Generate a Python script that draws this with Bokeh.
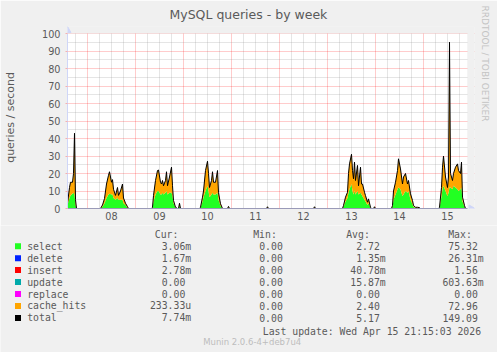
import math
from bokeh.plotting import figure
from bokeh.layouts import column
from bokeh.models import Range1d, FixedTicker, Title
from bokeh.core.properties import value
from bokeh.embed import file_html
from bokeh.resources import INLINE

# ---------------- data (hours relative to Wed Apr 8 00:00) ----------------
hours = [-10, -9, -8.5, -7.5, -7, -6.5, -6, -5.5,
         6, 6.5, 7.5, 8.5, 9.5, 10.5, 11, 12, 12.5, 13, 14, 15, 15.5, 16.5, 17.5, 18, 19, 20, 20.5,
         32, 32.5, 33, 34, 35, 35.5, 36.5, 37, 37.5, 38, 39, 39.5, 40, 41, 42, 42.5, 43, 44, 45, 45.5, 46, 46.5,
         56, 56.5, 57.5, 58, 59, 60, 60.5, 61, 62, 62.5, 63, 64, 65, 65.5, 66.5, 67.5, 70, 70.5, 71,
         89.5, 90, 90.5, 113, 113.5, 114,
         127.5, 128, 129, 130, 130.5, 131, 132, 132.5, 133, 133.5, 134, 135, 135.5, 136.5, 137, 137.5, 138.5, 139,
         140, 140.5, 141.5, 142, 143, 143.5, 144,
         152, 152.5, 153, 154, 155, 155.5, 156.5, 157.5, 158, 159, 160, 160.5, 161.5, 162.5, 163, 164, 165, 166, 166.5,
         175.5, 176, 177, 177.5, 178, 179, 180, 180.5, 181, 181.5, 182.5, 183, 184, 185, 185.5, 186.5, 187, 187.5,
         188.5, 189]
total = [3, 12, 15, 15, 20, 43, 5, 0,
         0, 0, 2, 5.7, 14, 19, 21, 15, 16.5, 11, 7.5, 12, 7.5, 10, 14, 6, 3, 1, 0,
         0, 0.7, 7.4, 16, 21.7, 22, 15, 14, 16, 13, 16, 21, 13, 18, 23.6, 13, 4.6, 0.7, 0, 0, 3, 0,
         0, 0.7, 6.5, 10, 21.7, 27, 20, 12, 16, 21, 15, 15, 21.7, 9, 2.7, 0, 0, 1.2, 0,
         0, 1, 0, 0, 1, 0,
         0, 1.7, 6.5, 9.3, 20, 25.5, 31, 21.7, 17, 26.5, 16, 24.6, 13, 23.6, 14, 14, 9.3, 7.4,
         3.6, 5.5, 0.7, 0, 0, 1, 0,
         0, 1.7, 10, 15, 21.7, 28.4, 22.6, 14, 18, 20, 14, 16, 8.4, 4.6, 1.7, 0.7, 0.7, 0.5, 0,
         0, 0.7, 12, 23.6, 30, 18, 12, 18, 95, 20, 16, 20, 23.6, 25.5, 21.7, 20, 26.5, 6.5,
         1.7, 0]
select = [2, 6, 7.5, 8.5, 9, 8, 2, 0,
          0, 0, 1, 3, 6, 8, 8.5, 8, 8, 6, 5, 6, 5, 5, 5, 3, 2, 0.5, 0,
          0, 0.4, 4, 8, 10, 10, 8, 8, 9, 8, 9, 10, 8, 9, 9, 7, 3, 0.4, 0, 0, 1.5, 0,
          0, 0.4, 4, 6.5, 10, 13, 10, 6.5, 8, 9, 8, 8, 9, 5, 1.5, 0, 0, 0.6, 0,
          0, 0.5, 0, 0, 0.5, 0,
          0, 1, 4, 6, 9, 11, 14, 10, 8, 10, 8, 10, 8, 9, 8, 7, 5, 4,
          2, 3, 0.4, 0, 0, 0.5, 0,
          0, 1, 5, 8, 11, 12, 11, 7, 8, 10, 9, 10, 5, 2.5, 1, 0.4, 0.3, 0.2, 0,
          0, 0.5, 7, 11, 13, 10, 7, 9, 12, 12, 11, 13, 12, 11, 10, 11, 12, 4,
          1, 0]

day_labels = ["08", "09", "10", "11", "12", "13", "14", "15"]
y_ticks = [0, 10, 20, 30, 40, 50, 60, 70, 80, 90, 100]

leg_names = ["select", "delete", "insert", "update", "replace", "cache_hits", "total"]
leg_colors = ["#22ff22", "#0022ff", "#ff0000", "#00aaaa", "#ff00ff", "#ffa500", "#000000"]
leg_cur = ["3.06m", "1.67m", "2.78m", "0.00", "0.00", "233.33u", "7.74m"]
leg_min = ["0.00", "0.00", "0.00", "0.00", "0.00", "0.00", "0.00"]
leg_avg = ["2.72", "1.35m", "40.78m", "15.87m", "0.00", "2.40", "5.17"]
leg_max = ["75.32", "26.31m", "1.56", "603.63m", "0.00", "72.96", "149.09"]
headers = ["Cur:", "Min:", "Avg:", "Max:"]

# ---------------- layout constants ----------------
W = 497
H1 = 225            # chart part
H2 = 352 - H1       # legend part
FL, FT, FB = 67, 26, 208     # frame (extended a little for the arrows)
X0, X1, XA = -10, 190, 193.5  # data window / arrow room
Y1, YA = 100, 104
FONT = "#5a5a5a"
AXIS = "#CFD6F8"
BG = "#F0F0F0"

frame_w = 400 * (XA - X0) / (X1 - X0)
p = figure(width=W, height=H1, output_backend="svg", toolbar_location=None,
           x_range=Range1d(X0, XA), y_range=Range1d(0, YA),
           min_border_left=FL, min_border_right=int(round(W - FL - frame_w)),
           min_border_top=FT, min_border_bottom=H1 - FB, frame_align=False)
p.background_fill_color = BG
p.border_fill_color = BG
p.outline_line_color = None

p.title.text = "MySQL queries - by week"
p.title.align = "left"
p.title.offset = 102
p.title.text_font = "DejaVu Sans"
p.title.text_font_size = "12.5px"
p.title.text_font_style = "normal"
p.title.text_color = FONT
p.title.standoff = 9

wm = Title(text="RRDTOOL / TOBI OETIKER", align="left", offset=-21,
           text_font="DejaVu Sans", text_font_size="9px", text_font_style="normal",
           text_color="#c4c4c4", standoff=11)
p.add_layout(wm, "right")

# white canvas area
p.quad(left=[X0], right=[X1], bottom=[0], top=[Y1], fill_color="#ffffff", line_color=None, level="image")

noons = [12 + 24 * k for k in range(len(day_labels))]
midnights = [24 * k for k in range(8)]
six_h = [h for h in range(-6, 190, 6) if h % 24 != 0]

p.xaxis.ticker = FixedTicker(ticks=noons)
p.xaxis.major_label_overrides = {t: l for t, l in zip(noons, day_labels)}
p.yaxis.ticker = FixedTicker(ticks=y_ticks)
p.xaxis.bounds = (X0, X1)
p.yaxis.bounds = (0, Y1)

for ax in (p.xaxis[0], p.yaxis[0]):
    ax.minor_tick_line_color = None
    ax.minor_tick_in = 0
    ax.minor_tick_out = 0
    ax.major_label_text_font = "DejaVu Sans"
    ax.major_label_text_font_size = "9.7px"
    ax.major_label_text_color = FONT
p.yaxis.axis_line_color = AXIS
p.xaxis.axis_line_color = "#9a9ab8"
p.xaxis.major_tick_line_color = None
p.xaxis.major_tick_in = 0
p.xaxis.major_tick_out = 0
p.xaxis.major_label_standoff = 3
p.yaxis.major_tick_line_color = "#f4b0b0"
p.yaxis.major_tick_in = 0
p.yaxis.major_tick_out = 2
p.yaxis.major_label_standoff = 5
p.yaxis.axis_label = "queries / second"
p.yaxis.axis_label_text_font = "DejaVu Sans"
p.yaxis.axis_label_text_font_size = "11px"
p.yaxis.axis_label_text_font_style = "normal"
p.yaxis.axis_label_text_color = FONT
p.yaxis.axis_label_standoff = 22

p.xgrid.ticker = FixedTicker(ticks=midnights, minor_ticks=six_h)
p.ygrid.ticker = FixedTicker(ticks=y_ticks, minor_ticks=[v + 5 for v in y_ticks[:-1]])
for g in (p.xgrid[0], p.ygrid[0]):
    g.grid_line_color = "#ff0000"
    g.grid_line_alpha = 0.4
    g.grid_line_dash = "1 1"
    g.minor_grid_line_color = "#8c8c8c"
    g.minor_grid_line_alpha = 0.45
    g.minor_grid_line_dash = "1 1"

# hide grid overflow outside the canvas area
p.quad(left=[X0, X1], right=[XA, XA], bottom=[Y1, 0], top=[YA, YA], fill_color=BG, line_color=None)

# ---------------- data glyphs ----------------
p.varea(x=hours, y1=[0] * len(hours), y2=select, fill_color="#22ff22")
p.varea(x=hours, y1=select, y2=total, fill_color="#ffa500")
p.line(x=hours, y=total, line_color="#000000", line_width=1)

# axis arrows
p.scatter(x=[X0], y=[Y1 + 1.7], marker="triangle", size=7, fill_color=AXIS, line_color=AXIS)
p.scatter(x=[X1 + 1.8], y=[0], marker="triangle", angle=-math.pi / 2, size=7,
          fill_color=AXIS, line_color=AXIS)

# ---------------- legend part ----------------
q = figure(width=W, height=H2, output_backend="svg", toolbar_location=None,
           x_range=Range1d(0, W), y_range=Range1d(H2, 0),
           x_axis_type=None, y_axis_type=None, min_border=0, frame_align=False)
q.background_fill_color = BG
q.border_fill_color = BG
q.outline_line_color = None
q.grid.visible = False

top = H1
row0 = 245.7 - top
step = 11.95
rows = [row0 + i * step for i in range(len(leg_names))]

mono = value("DejaVu Sans Mono")
q.rect(x=[17.5] * len(rows), y=rows, width=6, height=6, fill_color=leg_colors, line_color=None)
q.text(x=[26.7] * len(rows), y=rows, text=leg_names, text_font=mono, text_font_size="9.8px",
       text_color=FONT, text_align="left", text_baseline="middle")
q.text(x=[154.3, 252.7, 345.7, 447.7], y=[234.2 - top] * 4, text=headers, text_font=mono,
       text_font_size="9.8px", text_color=FONT, text_align="left", text_baseline="middle")

CH = 5.9
for col, edge in ((leg_cur, 190.7), (leg_min, 288.2), (leg_avg, 385.2), (leg_max, 483.2)):
    xs = [edge if s[-1].isalpha() else edge - CH for s in col]
    q.text(x=xs, y=rows, text=col, text_font=mono, text_font_size="9.8px",
           text_color=FONT, text_align="right", text_baseline="middle")

q.text(x=[262.3], y=[331 - top], text=["Last update: Wed Apr 15 21:15:03 2026"], text_font=mono,
       text_font_size="9.8px", text_color=FONT, text_align="left", text_baseline="middle")
q.text(x=[202.7], y=[341 - top], text=["Munin 2.0.6-4+deb7u4"], text_font=value("DejaVu Sans"),
       text_font_size="8.5px", text_color="#bdbdbd", text_align="left", text_baseline="middle")

layout = column(p, q, spacing=0)
open("out.html", "w").write(file_html(layout, INLINE))
